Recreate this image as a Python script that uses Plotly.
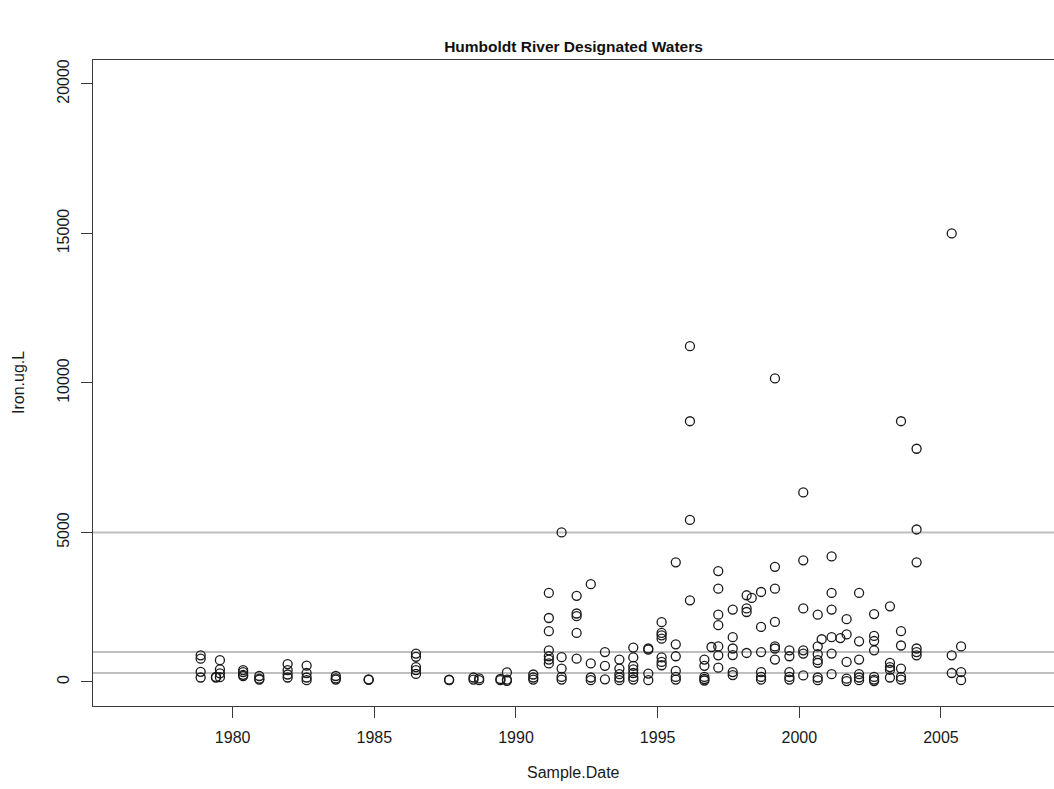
import plotly.graph_objects as go

# Sampling dates (decimal years) and the iron concentrations measured on each
sample_dates = [
    1978.87, 1979.41, 1979.55, 1980.37, 1980.94, 1981.94, 1982.61, 1983.64,
    1984.80, 1986.47, 1987.64, 1988.50, 1988.70, 1989.45, 1989.68, 1990.61,
    1991.16, 1991.61, 1992.14, 1992.64, 1993.14, 1993.65, 1994.14, 1994.67,
    1995.14, 1995.64, 1996.14, 1996.65, 1996.90, 1997.14, 1997.65, 1998.14,
    1998.32, 1998.65, 1999.14, 1999.65, 2000.14, 2000.65, 2000.79, 2001.14,
    2001.45, 2001.67, 2002.11, 2002.64, 2003.20, 2003.59, 2004.14, 2005.38,
    2005.71,
]

iron_by_date = [
    [890, 780, 340, 150],
    [170, 150],
    [730, 420, 290, 160],
    [400, 330, 240, 200],
    [200, 110, 80],
    [600, 400, 250, 150],
    [550, 300, 150, 60],
    [200, 120, 80],
    [70, 90],
    [950, 840, 500, 400, 270],
    [60, 80],
    [150, 80],
    [120, 60],
    [100, 60],
    [320, 80, 40],
    [250, 150, 80],
    [2980, 2140, 1700, 1060, 860, 750, 620],
    [5000, 830, 450, 170, 80],
    [2880, 2290, 2200, 1640, 780],
    [3270, 620, 150, 60],
    [1000, 540, 90],
    [750, 450, 260, 150, 60],
    [1150, 820, 540, 420, 300, 170, 80],
    [1120, 1080, 280, 60],
    [2000, 1640, 1560, 1450, 820, 670, 560],
    [4000, 1260, 860, 370, 170, 80],
    [11230, 8720, 5420, 2730],
    [750, 540, 170, 100, 50],
    [1170],
    [3710, 3120, 2250, 1900, 1190, 890, 480],
    [2420, 1500, 1120, 900, 330, 230],
    [2900, 2460, 2340, 970],
    [2810],
    [3010, 1840, 1000, 330, 170, 80],
    [10150, 3850, 3120, 2010, 1190, 1120, 750],
    [1060, 860, 330, 170, 80],
    [6340, 4070, 2460, 1060, 950, 220],
    [2250, 1190, 930, 730, 640, 150, 60],
    [1430],
    [4200, 2980, 2420, 1500, 950, 260],
    [1470],
    [2100, 1590, 670, 110, 30],
    [2980, 1360, 750, 260, 150, 60],
    [2270, 1540, 1370, 1060, 170, 80, 30],
    [2530, 640, 500, 410, 150],
    [8720, 1700, 1220, 450, 170, 80],
    [7800, 5100, 4000, 1120, 1000, 890],
    [15000, 890, 300],
    [1190, 330, 60],
]

# Reference levels drawn as grey horizontal lines
reference_levels = [5000, 1000, 300]

x_ticks = [1980, 1985, 1990, 1995, 2000, 2005]
y_ticks = [0, 5000, 10000, 15000, 20000]

xs, ys = [], []
for d, vals in zip(sample_dates, iron_by_date):
    for v in vals:
        xs.append(d)
        ys.append(v)

FONT = "Liberation Sans, Arial, sans-serif"
AXIS_COLOR = "#3a3a3a"

fig = go.Figure()
fig.add_trace(go.Scatter(
    x=xs, y=ys, mode="markers",
    marker=dict(symbol="circle-open", size=9, color="#1a1a1a",
                line=dict(width=1.3, color="#1a1a1a")),
    showlegend=False, hoverinfo="x+y",
))

for lvl in reference_levels:
    fig.add_shape(type="line", xref="paper", x0=0, x1=1, yref="y", y0=lvl, y1=lvl,
                  line=dict(color="#bebebe", width=2), layer="below")

fig.update_layout(
    width=1054, height=789,
    margin=dict(l=93, r=0, t=60, b=83),
    paper_bgcolor="white", plot_bgcolor="white",
    font=dict(family=FONT, size=16, color="#1a1a1a"),
    title=dict(text="<b>Humboldt River Designated Waters</b>",
               x=(93 + 1054) / 2 / 1054, xanchor="center",
               y=1 - 47 / 789, yanchor="middle", yref="container",
               font=dict(family=FONT, size=15.5, color="#111")),
    xaxis=dict(
        range=[1975.07, 2008.99], tickvals=x_ticks, ticktext=[str(t) for t in x_ticks],
        showgrid=False, zeroline=False,
        showline=True, linecolor=AXIS_COLOR, linewidth=1.2, mirror=True,
        ticks="outside", ticklen=11, tickwidth=1.2, tickcolor=AXIS_COLOR,
        ticklabelstandoff=6,
    ),
    yaxis=dict(
        range=[-803, 20800], tickvals=y_ticks, ticktext=[str(t) for t in y_ticks],
        showgrid=False, zeroline=False,
        showline=True, linecolor=AXIS_COLOR, linewidth=1.2,
        ticks="outside", ticklen=11, tickwidth=1.2, tickcolor=AXIS_COLOR,
        tickangle=-90, ticklabelstandoff=6,
    ),
    annotations=[
        dict(text="Sample.Date", xref="paper", yref="paper",
             x=0.5, y=(705.7 - 772) / 645.7, xanchor="center", yanchor="middle",
             showarrow=False, font=dict(family=FONT, size=16)),
        dict(text="Iron.ug.L", xref="paper", yref="paper",
             x=(18 - 93) / 961, y=0.5, xanchor="center", yanchor="middle",
             textangle=-90, showarrow=False, font=dict(family=FONT, size=16)),
    ],
)

fig.write_html("out.html")
